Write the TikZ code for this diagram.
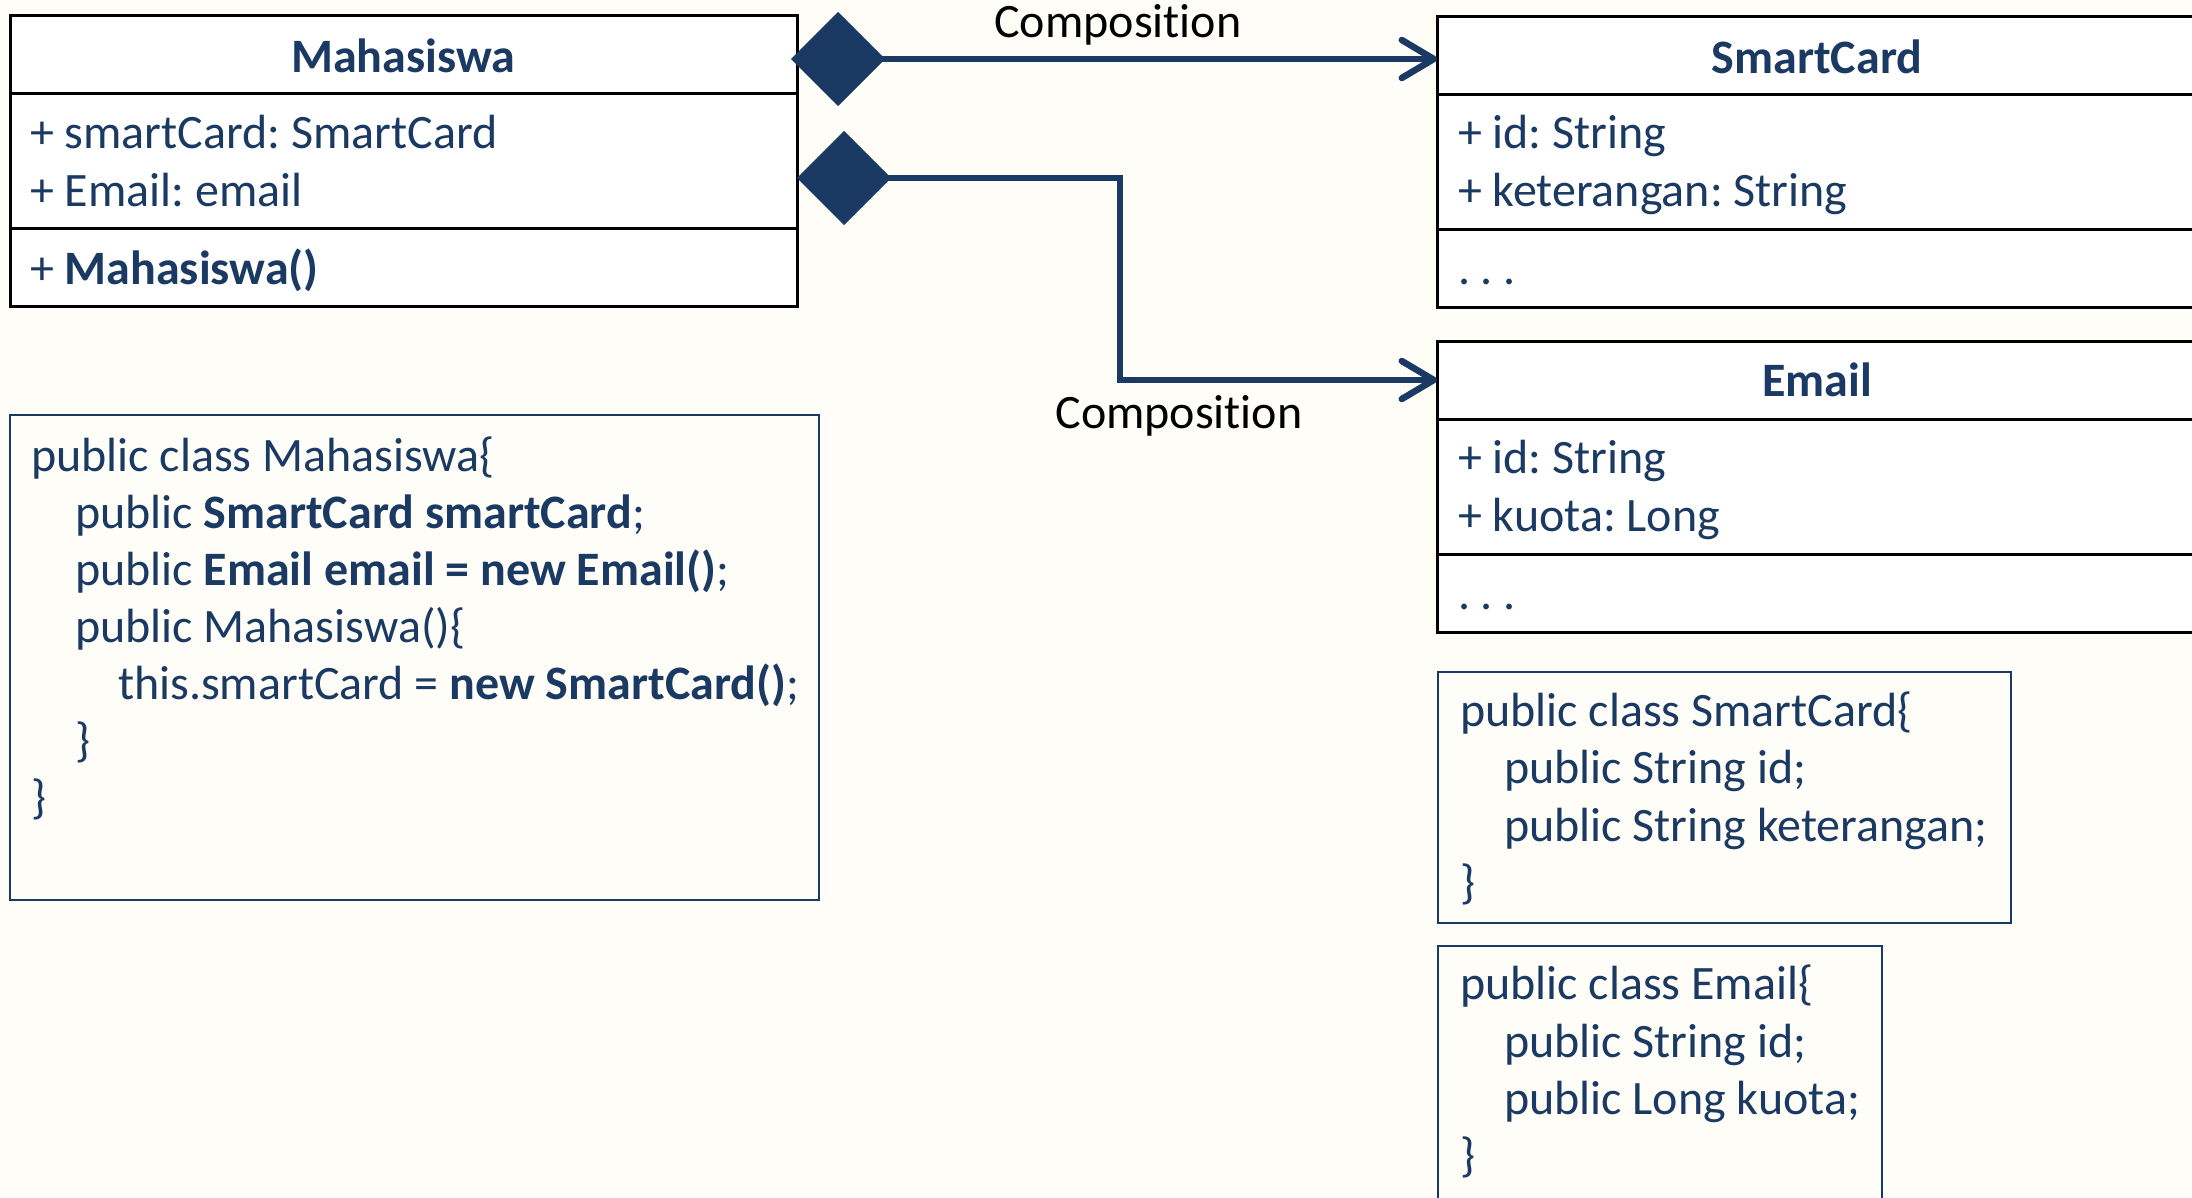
\documentclass[tikz,border=0pt]{standalone}
\usepackage{fontspec}
\setmainfont[Ligatures={NoCommon}]{Carlito}
\usetikzlibrary{arrows.meta}

\definecolor{navy}{RGB}{27,58,99}
\definecolor{paper}{RGB}{254,253,248}

\tikzset{
  every node/.style={inner sep=0pt, outer sep=0pt, font=\fontsize{48}{58}\selectfont\frenchspacing},
  compart/.style={draw=black, line width=3pt, fill=white, anchor=north west, rectangle},
  codebox/.style={draw=navy, line width=2.5pt, anchor=north west, rectangle},
  txt/.style={anchor=base west, text=navy},
  head/.style={anchor=base, text=navy, font=\fontsize{48}{58}\selectfont\bfseries},
  lbl/.style={anchor=base, text=black},
  compo/.style={draw=navy, line width=6.5pt,
    {Diamond[length=94pt,width=94pt,line width=0.5pt]}-{Straight Barb[length=32pt,width=38pt,round]}}
}

\begin{document}
\begin{tikzpicture}[x=1pt,y=-1pt]
  \fill[paper] (0,0) rectangle (2192,1197);
  \useasboundingbox (0,0) rectangle (2192,1197);

  % class Mahasiswa
  \node[compart, minimum width=787pt, minimum height=78pt]  (mH) at (10,15)  {};
  \node[compart, minimum width=787pt, minimum height=135pt] (mA) at (10,93)  {};
  \node[compart, minimum width=787pt, minimum height=78pt]  (mO) at (10,228) {};
  \node[head] (mT) at (403,72) {Mahasiswa};
  \node[txt] (mA1) at (30,148) {+ smartCard: SmartCard};
  \node[txt] (mA2) at (30,206) {+ Email: email};
  \node[txt] (mO1) at (30,284) {+ \textbf{Mahasiswa()}};

  % class SmartCard
  \node[compart, minimum width=760pt, minimum height=78pt]  (sH) at (1437,16)  {};
  \node[compart, minimum width=760pt, minimum height=135pt] (sA) at (1437,94)  {};
  \node[compart, minimum width=760pt, minimum height=78pt]  (sO) at (1437,229) {};
  \node[head] (sT) at (1817,73) {SmartCard};
  \node[txt] (sA1) at (1458,148) {+ id: String};
  \node[txt] (sA2) at (1458,206) {+ keterangan: String};
  \node[txt] (sO1) at (1458,284) {. . .};

  % class Email
  \node[compart, minimum width=760pt, minimum height=78pt]  (eH) at (1437,341) {};
  \node[compart, minimum width=760pt, minimum height=135pt] (eA) at (1437,419) {};
  \node[compart, minimum width=760pt, minimum height=78pt]  (eO) at (1437,554) {};
  \node[head] (eT) at (1817,396) {Email};
  \node[txt] (eA1) at (1458,473) {+ id: String};
  \node[txt] (eA2) at (1458,531) {+ kuota: Long};
  \node[txt] (eO1) at (1458,609) {. . .};

  % compositions
  \coordinate (d1) at ([xshift=-6pt,yshift=-5pt]mH.east);
  \coordinate (bend) at (1120,178);
  \draw[compo] (d1) -- (d1 -| sH.west);
  \draw[compo] (mA.north east |- bend) -- (bend) |- (eH.west);
  \node[lbl] (c1) at (1118,37) {Composition};
  \node[lbl] (c2) at (1179,428) {Composition};

  % source of Mahasiswa
  \node[codebox, minimum width=809pt, minimum height=485pt] (mCode) at (10,415) {};
  \node[txt] (mc1) at (31,471) {public class Mahasiswa\{};
  \node[txt] (mc2) at (75,528) {public \textbf{SmartCard smartCard};};
  \node[txt] (mc3) at (75,585) {public \textbf{Email email = new Email()};};
  \node[txt] (mc4) at (75,642) {public Mahasiswa()\{};
  \node[txt] (mc5) at (118,699) {this.smartCard = \textbf{new SmartCard()};};
  \node[txt] (mc6) at (75,756) {\}};
  \node[txt] (mc7) at (31,813) {\}};

  % source of SmartCard
  \node[codebox, minimum width=573pt, minimum height=251pt] (sCode) at (1438,672) {};
  \node[txt] (sc1) at (1460,726) {public class SmartCard\{};
  \node[txt] (sc2) at (1504,783) {public String id;};
  \node[txt] (sc3) at (1504,841) {public String keterangan;};
  \node[txt] (sc4) at (1460,898) {\}};

  % source of Email
  \node[codebox, minimum width=444pt, minimum height=280pt] (eCode) at (1438,946) {};
  \node[txt] (ec1) at (1460,999) {public class Email\{};
  \node[txt] (ec2) at (1504,1057) {public String id;};
  \node[txt] (ec3) at (1504,1114) {public Long kuota;};
  \node[txt] (ec4) at (1460,1171) {\}};
\end{tikzpicture}
\end{document}
